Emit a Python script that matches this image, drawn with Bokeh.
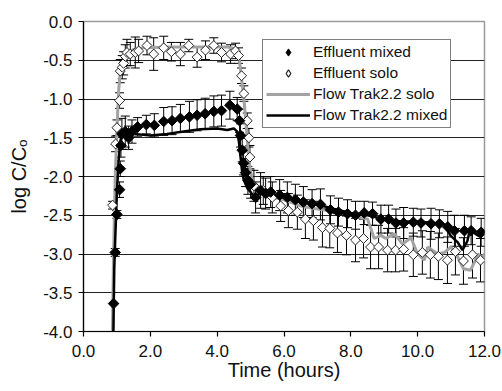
import numpy as np
from bokeh.plotting import figure
from bokeh.models import (ColumnDataSource, Whisker, TeeHead, FixedTicker,
                          NumeralTickFormatter, Legend, LegendItem, Range1d)
from bokeh.embed import file_html
from bokeh.resources import INLINE

# ---------------- data ----------------
mixed_t = [0.90, 0.95, 1.00, 1.08, 1.10, 1.12, 1.15, 1.25, 1.35, 1.45, 1.62, 1.88,
           2.12, 2.40, 2.65, 2.90, 3.17, 3.40, 3.64, 3.90, 4.13, 4.38, 4.60, 4.67,
           4.70, 4.75, 4.79, 4.85, 4.92, 5.00, 5.15, 5.30, 5.45, 5.60, 5.87, 6.10,
           6.34, 6.58, 6.84, 7.09, 7.39, 7.63, 7.90, 8.14, 8.40, 8.65, 8.90, 9.13,
           9.35, 9.58, 9.87, 10.10, 10.40, 10.65, 10.90, 11.10, 11.40, 11.60, 11.90]
mixed_v = [-3.64, -2.98, -2.49, -2.17, -1.90, -1.60, -1.45, -1.42, -1.50, -1.42, -1.36, -1.33,
           -1.34, -1.29, -1.28, -1.25, -1.23, -1.21, -1.19, -1.16, -1.15, -1.08, -1.13, -1.28,
           -1.47, -1.66, -1.83, -1.95, -2.05, -2.10, -2.27, -2.18, -2.22, -2.20, -2.24, -2.27,
           -2.30, -2.33, -2.35, -2.36, -2.43, -2.46, -2.48, -2.50, -2.47, -2.48, -2.55, -2.55,
           -2.60, -2.60, -2.59, -2.60, -2.61, -2.61, -2.65, -2.70, -2.70, -2.70, -2.72]
mixed_e = [0.00, 0.05, 0.05, 0.10, 0.10, 0.15, 0.20, 0.20, 0.15, 0.15, 0.12, 0.12,
           0.15, 0.18, 0.18, 0.18, 0.20, 0.20, 0.20, 0.20, 0.20, 0.18, 0.15, 0.15,
           0.15, 0.15, 0.15, 0.18, 0.18, 0.18, 0.20, 0.23, 0.20, 0.20, 0.20, 0.20,
           0.20, 0.20, 0.18, 0.20, 0.18, 0.18, 0.18, 0.18, 0.15, 0.15, 0.18, 0.18,
           0.18, 0.20, 0.18, 0.18, 0.20, 0.18, 0.20, 0.20, 0.20, 0.18, 0.18]

solo_t = [0.87, 0.96, 1.00, 1.08, 1.10, 1.16, 1.20, 1.25, 1.30, 1.40, 1.55, 1.65,
          1.90, 2.10, 2.40, 2.63, 2.90, 3.15, 3.40, 3.65, 3.90, 4.13, 4.40, 4.55,
          4.64, 4.73, 4.80, 4.90, 4.95, 4.98, 5.10, 5.38, 5.65, 5.90, 6.13, 6.40,
          6.64, 6.88, 7.15, 7.37, 7.60, 7.87, 8.14, 8.38, 8.59, 8.83, 9.10, 9.34,
          9.58, 9.87, 10.14, 10.38, 10.62, 10.89, 11.13, 11.37, 11.64, 11.88]
solo_v = [-2.37, -1.58, -1.37, -1.02, -0.64, -0.59, -0.54, -0.45, -0.40, -0.42, -0.40, -0.38,
          -0.31, -0.42, -0.34, -0.39, -0.42, -0.31, -0.46, -0.37, -0.31, -0.40, -0.42, -0.38,
          -0.44, -0.70, -0.93, -1.28, -1.50, -1.75, -2.12, -2.18, -2.27, -2.38, -2.44, -2.46,
          -2.55, -2.57, -2.66, -2.67, -2.73, -2.76, -2.82, -2.80, -2.91, -2.91, -2.95, -2.95,
          -2.94, -3.01, -2.98, -3.01, -3.03, -3.08, -2.97, -3.09, -3.01, -3.08]
solo_e = [0.05, 0.10, 0.10, 0.10, 0.15, 0.15, 0.15, 0.15, 0.17, 0.15, 0.20, 0.15,
          0.12, 0.21, 0.15, 0.12, 0.15, 0.08, 0.13, 0.12, 0.10, 0.12, 0.12, 0.10,
          0.10, 0.10, 0.10, 0.10, 0.12, 0.15, 0.20, 0.18, 0.20, 0.20, 0.22, 0.22,
          0.25, 0.25, 0.25, 0.25, 0.25, 0.25, 0.28, 0.25, 0.28, 0.28, 0.28, 0.28,
          0.28, 0.28, 0.28, 0.30, 0.30, 0.30, 0.30, 0.30, 0.30, 0.28]

ft_solo_t = [0.85, 0.90, 0.95, 1.00, 1.05, 1.10, 1.20, 1.30, 1.50, 1.80, 2.50, 3.50,
             4.30, 4.55, 4.65, 4.72, 4.80, 4.88, 4.95, 5.05, 5.20, 5.50, 6.00, 6.50,
             7.00, 7.50, 8.00, 8.50, 8.70, 8.90, 9.05, 9.30, 9.55, 9.80, 10.00, 10.20,
             10.30, 10.60, 10.80, 11.00, 11.20, 11.37, 11.58, 11.73, 11.80, 11.93, 12.00]
ft_solo_v = [-4.50, -3.00, -2.00, -1.40, -0.90, -0.65, -0.50, -0.42, -0.36, -0.34, -0.33, -0.33,
             -0.33, -0.35, -0.45, -0.70, -1.00, -1.40, -1.80, -2.05, -2.15, -2.25, -2.30, -2.38,
             -2.42, -2.45, -2.50, -2.55, -2.80, -2.76, -2.80, -2.74, -2.87, -2.79, -3.00, -3.08,
             -2.91, -3.00, -2.98, -2.91, -3.04, -3.19, -3.21, -3.08, -3.00, -3.04, -3.00]

ft_mixed_t = [0.88, 0.92, 0.95, 1.00, 1.05, 1.10, 1.15, 1.30, 1.50, 2.00, 2.50, 3.00,
              3.50, 4.00, 4.30, 4.50, 4.60, 4.65, 4.70, 4.75, 4.80, 4.90, 5.00, 5.15,
              5.30, 5.60, 6.00, 6.50, 7.00, 7.50, 8.00, 8.50, 9.00, 9.50, 10.00, 10.50,
              10.80, 10.98, 11.20, 11.34, 11.49, 11.58, 11.73, 11.88, 12.00]
ft_mixed_v = [-4.50, -3.20, -2.80, -2.20, -1.80, -1.55, -1.45, -1.43, -1.45, -1.47, -1.45, -1.42,
              -1.39, -1.38, -1.40, -1.38, -1.42, -1.55, -1.75, -1.95, -2.05, -2.15, -2.20, -2.30,
              -2.18, -2.22, -2.27, -2.32, -2.36, -2.42, -2.47, -2.50, -2.55, -2.58, -2.58, -2.60,
              -2.62, -2.76, -2.85, -2.95, -2.83, -2.66, -2.74, -2.78, -2.70]

x_ticks = [0, 2, 4, 6, 8, 10, 12]
y_ticks = [0.0, -0.5, -1.0, -1.5, -2.0, -2.5, -3.0, -3.5, -4.0]
grid_lines = [-0.5, -1.0, -1.5, -2.0, -2.5, -3.0, -3.5]

FONT = "Liberation Sans"

# ---------------- figure ----------------
p = figure(width=502, height=391, output_backend="svg", toolbar_location=None,
           x_range=Range1d(0, 12), y_range=Range1d(-4, 0),
           min_border_left=83, min_border_right=18, min_border_top=21,
           min_border_bottom=60)
p.background_fill_color = "white"
p.border_fill_color = "white"
p.outline_line_color = "#9a9a9a"
p.outline_line_width = 1.5

p.xgrid.visible = False
p.ygrid.ticker = FixedTicker(ticks=grid_lines)
p.ygrid.grid_line_color = "#222222"
p.ygrid.grid_line_width = 1.2

for ax in (p.xaxis[0], p.yaxis[0]):
    ax.axis_line_color = "black"
    ax.axis_line_width = 1.2
    ax.major_tick_line_color = "black"
    ax.major_tick_line_width = 1.2
    ax.minor_tick_line_color = None
    ax.major_tick_in = 0
    ax.major_tick_out = 5
    ax.major_label_text_font = FONT
    ax.major_label_text_font_size = "17px"
    ax.major_label_text_color = "#111111"
    ax.axis_label_text_font = FONT
    ax.axis_label_text_font_size = "20px"
    ax.axis_label_text_font_style = "normal"
    ax.axis_label_text_color = "#111111"
    ax.formatter = NumeralTickFormatter(format="0.0")

p.xaxis.ticker = FixedTicker(ticks=x_ticks)
p.yaxis.ticker = FixedTicker(ticks=y_ticks)
p.xaxis.axis_label = "Time (hours)"
p.yaxis.axis_label = "log C/C\u2092"
p.xaxis.major_label_standoff = 8
p.yaxis.major_label_standoff = 6
p.xaxis.axis_label_standoff = -1
p.yaxis.axis_label_standoff = 10

# model lines
r_fsolo = p.line(ft_solo_t, ft_solo_v, line_color="#a3a3a3", line_width=3)
r_fmix = p.line(ft_mixed_t, ft_mixed_v, line_color="black", line_width=2.5)

# error bars
src_m = ColumnDataSource(dict(t=mixed_t, v=mixed_v,
                              up=list(np.array(mixed_v) + np.array(mixed_e)),
                              lo=list(np.array(mixed_v) - np.array(mixed_e))))
src_s = ColumnDataSource(dict(t=solo_t, v=solo_v,
                              up=list(np.array(solo_v) + np.array(solo_e)),
                              lo=list(np.array(solo_v) - np.array(solo_e))))
for src in (src_s, src_m):
    w = Whisker(source=src, base="t", upper="up", lower="lo", dimension="height",
                line_color="black", line_width=1,
                upper_head=TeeHead(size=9, line_color="black", line_width=1),
                lower_head=TeeHead(size=9, line_color="black", line_width=1))
    p.add_layout(w)

r_solo = p.scatter("t", "v", source=src_s, marker="square", angle=np.pi / 4, size=7,
                   fill_color="white", line_color="#222222", line_width=1)
r_mix = p.scatter("t", "v", source=src_m, marker="square", angle=np.pi / 4, size=7.5,
                  fill_color="black", line_color="black", line_width=1)

# legend proxies (diamond glyphs, placed outside the visible range)
lg_mix = p.scatter(x=[-100], y=[-100], marker="diamond", size=15,
                   fill_color="black", line_color="black")
lg_solo = p.scatter(x=[-100], y=[-100], marker="diamond", size=14,
                    fill_color="white", line_color="#222222", line_width=1.2)

legend = Legend(items=[
    LegendItem(label="Effluent mixed", renderers=[lg_mix]),
    LegendItem(label="Effluent solo", renderers=[lg_solo]),
    LegendItem(label="Flow Trak2.2 solo", renderers=[r_fsolo]),
    LegendItem(label="Flow Trak2.2 mixed", renderers=[r_fmix]),
], location=(179, 203))
legend.label_text_font = FONT
legend.label_text_font_size = "15.5px"
legend.label_text_color = "#111111"
legend.border_line_color = "black"
legend.border_line_width = 1.2
legend.background_fill_color = "white"
legend.background_fill_alpha = 1
legend.padding = 3
legend.spacing = 3
legend.margin = 0
legend.glyph_width = 44
legend.glyph_height = 18
legend.label_height = 18
legend.label_standoff = 3
p.add_layout(legend, "center")

open("out.html", "w").write(file_html(p, INLINE))
